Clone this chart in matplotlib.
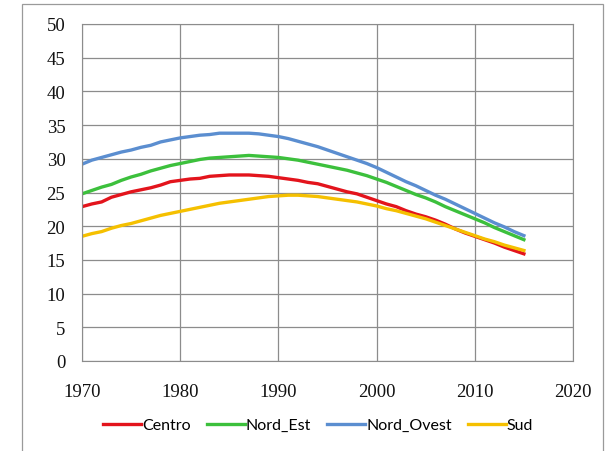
import numpy as np
import matplotlib
matplotlib.use('Agg')
from matplotlib import pyplot as plt
from matplotlib.patches import Rectangle

years = list(range(1970, 2016))

centro = [22.9, 23.3, 23.6, 24.3, 24.7, 25.1, 25.4, 25.7, 26.1, 26.6,
          26.8, 27.0, 27.1, 27.4, 27.5, 27.6, 27.6, 27.6, 27.5, 27.4,
          27.2, 27.0, 26.8, 26.5, 26.3, 25.9, 25.5, 25.1, 24.8, 24.3,
          23.8, 23.3, 22.9, 22.3, 21.8, 21.4, 20.9, 20.3, 19.6, 19.0,
          18.5, 18.0, 17.5, 16.9, 16.4, 15.9]
nord_est = [24.8, 25.3, 25.8, 26.2, 26.8, 27.3, 27.7, 28.2, 28.6, 29.0,
            29.3, 29.6, 29.9, 30.1, 30.2, 30.3, 30.4, 30.5, 30.4, 30.3,
            30.2, 30.0, 29.8, 29.5, 29.2, 28.9, 28.6, 28.3, 27.9, 27.5,
            27.0, 26.5, 25.9, 25.3, 24.7, 24.2, 23.6, 22.9, 22.3, 21.7,
            21.1, 20.5, 19.8, 19.2, 18.6, 18.0]
nord_ovest = [29.2, 29.8, 30.2, 30.6, 31.0, 31.3, 31.7, 32.0, 32.5, 32.8,
              33.1, 33.3, 33.5, 33.6, 33.8, 33.8, 33.8, 33.8, 33.7, 33.5,
              33.3, 33.0, 32.6, 32.2, 31.8, 31.3, 30.8, 30.3, 29.8, 29.3,
              28.7, 28.0, 27.3, 26.6, 26.0, 25.3, 24.6, 24.0, 23.3, 22.6,
              21.9, 21.2, 20.5, 19.9, 19.2, 18.6]
sud = [18.5, 18.9, 19.2, 19.7, 20.1, 20.4, 20.8, 21.2, 21.6, 21.9,
       22.2, 22.5, 22.8, 23.1, 23.4, 23.6, 23.8, 24.0, 24.2, 24.4,
       24.5, 24.6, 24.6, 24.5, 24.4, 24.2, 24.0, 23.8, 23.6, 23.3,
       23.0, 22.6, 22.3, 21.9, 21.5, 21.1, 20.6, 20.1, 19.6, 19.1,
       18.6, 18.1, 17.7, 17.2, 16.8, 16.4]

plt.rcParams['font.family'] = ['Lato', 'DejaVu Sans']

fig = plt.figure(figsize=(6.1, 4.52), dpi=100)
ax = fig.add_axes([82 / 610, 1 - 362 / 452, (573 - 82) / 610, (362 - 25) / 452])

ax.plot(years, centro, color='#e3141c', lw=2.4, label='Centro')
ax.plot(years, nord_est, color='#3cc03c', lw=2.4, label='Nord_Est')
ax.plot(years, nord_ovest, color='#5b8ed0', lw=2.4, label='Nord_Ovest')
ax.plot(years, sud, color='#f5c000', lw=2.4, label='Sud')

ax.set_xlim(1970, 2020)
ax.set_ylim(0, 50)
ax.set_xticks(range(1970, 2021, 10))
ax.set_yticks(range(0, 51, 5))
ax.grid(True, color='#8c8c8c', lw=0.9)
ax.set_axisbelow(True)
for s in ax.spines.values():
    s.set_color('#8c8c8c')
ax.tick_params(length=0, labelsize=13.5, colors='#111111')
for lab in ax.get_xticklabels() + ax.get_yticklabels():
    lab.set_family(['Liberation Serif', 'DejaVu Serif'])
ax.tick_params(axis='x', pad=16)
ax.tick_params(axis='y', pad=12)

fig.legend(loc='center', bbox_to_anchor=(318 / 610, 1 - 426 / 452), ncol=4,
           frameon=False, fontsize=11.5, handlelength=2.4, handletextpad=0.05,
           columnspacing=1.0)

fig.patches.append(Rectangle((22 / 610, -0.02), 581 / 610, 1.02 - 5 / 452,
                             transform=fig.transFigure, fill=False,
                             edgecolor='#9a9a9a', lw=0.9))

fig.savefig('out.png', dpi=100)
